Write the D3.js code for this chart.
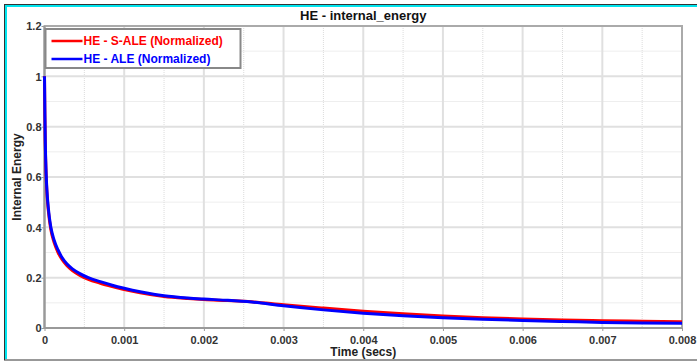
<!DOCTYPE html>
<html>
<head>
<meta charset="utf-8">
<script src="https://cdn.jsdelivr.net/npm/d3@7"></script>
<style>
  body { margin: 0; background: #fff; }
  svg { display: block; font-family: "Liberation Sans", Arial, sans-serif; }
  .tick text { font-size: 11px; font-weight: bold; fill: #333; }
  .axis .tick line { stroke: #999; }
</style>
</head>
<body>
<div id="chart"></div>
<script>
// time (secs)
var timeData = [0, 0.000005, 0.00001, 0.00002, 0.00003, 0.00005, 0.00008, 0.00012, 0.00017, 0.00022,
  0.00028, 0.00035, 0.00045, 0.00055, 0.0007, 0.00085, 0.001, 0.0012, 0.0015, 0.0018,
  0.002, 0.0023, 0.0026, 0.003, 0.0035, 0.004, 0.0045, 0.005, 0.0055, 0.006,
  0.0065, 0.007, 0.0075, 0.008];
// HE - S-ALE (Normalized)
var saleData = [1.0, 0.84, 0.73, 0.61, 0.54, 0.46, 0.39, 0.34, 0.30, 0.272,
  0.248, 0.228, 0.208, 0.193, 0.178, 0.165, 0.153, 0.140, 0.125, 0.117,
  0.113, 0.109, 0.104, 0.092, 0.079, 0.067, 0.057, 0.048, 0.041, 0.036,
  0.032, 0.029, 0.027, 0.025];
// HE - ALE (Normalized)
var aleData = [1.0, 0.85, 0.74, 0.62, 0.55, 0.47, 0.40, 0.35, 0.31, 0.28,
  0.255, 0.235, 0.215, 0.200, 0.184, 0.170, 0.158, 0.144, 0.128, 0.119,
  0.115, 0.110, 0.103, 0.088, 0.072, 0.059, 0.049, 0.041, 0.035, 0.030,
  0.026, 0.022, 0.020, 0.019];

var xTicks = [0, 0.001, 0.002, 0.003, 0.004, 0.005, 0.006, 0.007, 0.008];
var xTickLabels = ["0", "0.001", "0.002", "0.003", "0.004", "0.005", "0.006", "0.007", "0.008"];
var yTicks = [0, 0.2, 0.4, 0.6, 0.8, 1, 1.2];
var yTickLabels = ["0", "0.2", "0.4", "0.6", "0.8", "1", "1.2"];
var xMinor = [0.0005, 0.0015, 0.0025, 0.0035, 0.0045, 0.0055, 0.0065, 0.0075];
var yMinor = [0.1, 0.3, 0.5, 0.7, 0.9, 1.1];

var series = [
  { name: "HE - S-ALE (Normalized)", color: "#ff0000", values: saleData },
  { name: "HE - ALE (Normalized)", color: "#0000ff", values: aleData }
];

var W = 697, H = 362;
var margin = { top: 26, right: 15, bottom: 34, left: 44.5 };
var width = 682 - margin.left;
var height = 328 - margin.top;

var svg = d3.select("#chart").append("svg")
  .attr("width", W)
  .attr("height", H);

// outer frame
svg.append("rect")
  .attr("x", 4.5).attr("y", 4.5)
  .attr("width", 700).attr("height", 355.5)
  .attr("fill", "none").attr("stroke", "#333").attr("stroke-width", 1);
svg.append("line").attr("x1", 6).attr("x2", 6).attr("y1", 5).attr("y2", 359)
  .attr("stroke", "#00e5ee").attr("stroke-width", 2);
svg.append("line").attr("x1", 5).attr("x2", 697).attr("y1", 6).attr("y2", 6)
  .attr("stroke", "#00e5ee").attr("stroke-width", 2);

var g = svg.append("g")
  .attr("transform", "translate(" + margin.left + "," + margin.top + ")");

var x = d3.scaleLinear().domain([0, 0.008]).range([0, width]);
var y = d3.scaleLinear().domain([0, 1.2]).range([height, 0]);

// minor grid (dotted)
g.selectAll(".xminor").data(xMinor).enter().append("line")
  .attr("x1", function(d) { return x(d); }).attr("x2", function(d) { return x(d); })
  .attr("y1", 0).attr("y2", height)
  .attr("stroke", "#dcdcdc").attr("stroke-dasharray", "1,1");
g.selectAll(".yminor").data(yMinor).enter().append("line")
  .attr("y1", function(d) { return y(d); }).attr("y2", function(d) { return y(d); })
  .attr("x1", 0).attr("x2", width)
  .attr("stroke", "#dcdcdc").attr("stroke-dasharray", "1,1");

// major grid
g.selectAll(".xgrid").data(xTicks).enter().append("line")
  .attr("x1", function(d) { return x(d); }).attr("x2", function(d) { return x(d); })
  .attr("y1", 0).attr("y2", height)
  .attr("stroke", "#e0e0e0").attr("stroke-width", 2);
g.selectAll(".ygrid").data(yTicks).enter().append("line")
  .attr("y1", function(d) { return y(d); }).attr("y2", function(d) { return y(d); })
  .attr("x1", 0).attr("x2", width)
  .attr("stroke", "#e0e0e0").attr("stroke-width", 2);

// plot border
g.append("rect")
  .attr("x", 0).attr("y", 0).attr("width", width).attr("height", height)
  .attr("fill", "none").attr("stroke", "#aaa").attr("stroke-width", 2);

var xAxis = d3.axisBottom(x)
  .tickValues(xTicks)
  .tickSize(3)
  .tickFormat(function(d, i) { return xTickLabels[i]; });
var yAxis = d3.axisLeft(y)
  .tickValues(yTicks)
  .tickSize(3)
  .tickFormat(function(d, i) { return yTickLabels[i]; });

g.append("g")
  .attr("class", "x axis")
  .attr("transform", "translate(0," + height + ")")
  .call(xAxis)
  .selectAll("text").attr("dy", "0.9em");

g.append("g")
  .attr("class", "y axis")
  .call(yAxis)
  .selectAll("text").attr("x", -3).attr("dy", "0.35em");

g.selectAll(".axis .domain").remove();
g.append("line").attr("x1", 0).attr("x2", 0).attr("y1", 0).attr("y2", height)
  .attr("stroke", "#999").attr("stroke-width", 2);
g.append("line").attr("x1", 0).attr("x2", width).attr("y1", height).attr("y2", height)
  .attr("stroke", "#999").attr("stroke-width", 2);

// curves
var line = d3.line()
  .x(function(d, i) { return x(timeData[i]); })
  .y(function(d) { return y(d); })
  .curve(d3.curveMonotoneX);

g.selectAll(".series").data(series).enter().append("path")
  .attr("class", "series")
  .attr("d", function(d) { return line(d.values); })
  .attr("fill", "none")
  .attr("stroke", function(d) { return d.color; })
  .attr("stroke-width", 3)
  .attr("stroke-linejoin", "round");

// legend
var legend = g.append("g").attr("transform", "translate(1,3)");
legend.append("rect")
  .attr("x", 0).attr("y", 0).attr("width", 195).attr("height", 39)
  .attr("fill", "#fff").attr("stroke", "#888").attr("stroke-width", 2);
var item = legend.selectAll(".item").data(series).enter().append("g")
  .attr("transform", function(d, i) { return "translate(0," + (12 + i * 18) + ")"; });
item.append("line")
  .attr("x1", 6).attr("x2", 37)
  .attr("stroke", function(d) { return d.color; }).attr("stroke-width", 2.5);
item.append("text")
  .attr("x", 38).attr("dy", "0.35em")
  .attr("font-size", "12px").attr("font-weight", "bold")
  .attr("fill", function(d) { return d.color; })
  .text(function(d) { return d.name; });

// titles
svg.append("text")
  .attr("x", margin.left + width / 2).attr("y", 20)
  .attr("text-anchor", "middle")
  .attr("font-size", "13px").attr("font-weight", "bold").attr("fill", "#111")
  .text("HE - internal_energy");

svg.append("text")
  .attr("x", margin.left + width / 2).attr("y", 356)
  .attr("text-anchor", "middle")
  .attr("font-size", "12px").attr("font-weight", "bold").attr("fill", "#222")
  .text("Time (secs)");

svg.append("text")
  .attr("transform", "translate(21," + (margin.top + height / 2) + ") rotate(-90)")
  .attr("text-anchor", "middle")
  .attr("font-size", "12px").attr("font-weight", "bold").attr("fill", "#222")
  .text("Internal Energy");
</script>
</body>
</html>
